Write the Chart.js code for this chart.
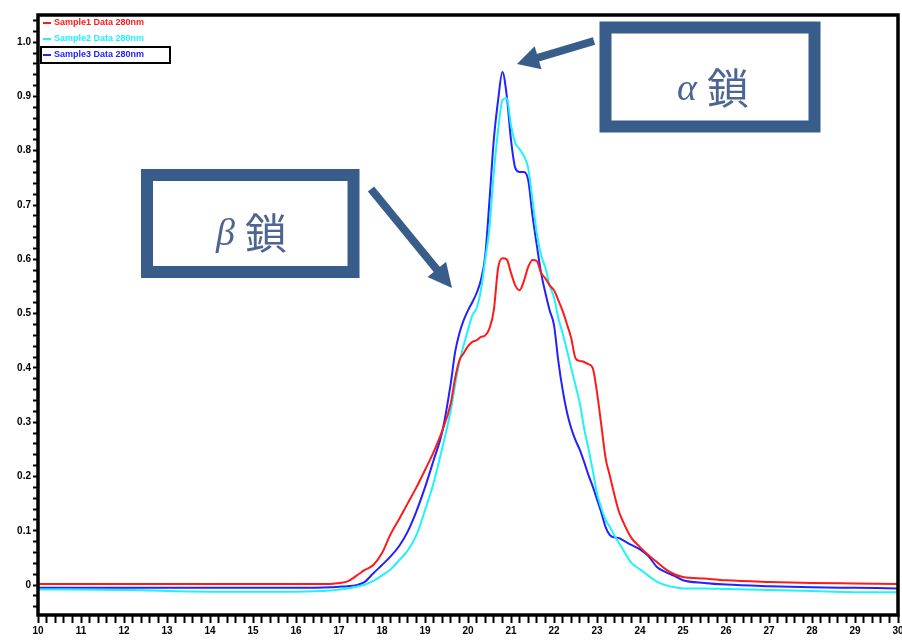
<!DOCTYPE html>
<html>
<head>
<meta charset="utf-8">
<title>Globin chain chromatogram</title>
<script src="https://cdn.jsdelivr.net/npm/chart.js@4.4.1/dist/chart.umd.min.js"></script>
<style>
  html, body { margin: 0; padding: 0; background: #fff; }
  #wrap { width: 902px; height: 641px; position: relative; }
  canvas { display: block; }
</style>
</head>
<body>
<div id="wrap"><canvas id="chart" width="902" height="641"></canvas></div>
<script>
// Retention time (min) shared by all three traces
const retentionTime = [
  10, 12, 14, 16, 16.8,
  17.0, 17.2, 17.4, 17.6, 17.8, 18.0, 18.2, 18.4, 18.6, 18.8, 19.0, 19.2, 19.4,
  19.6,
  19.7, 19.8, 19.9, 20.0, 20.1, 20.2, 20.3, 20.4, 20.5, 20.6,
  20.7, 20.8, 20.9, 21.0, 21.1, 21.2, 21.3, 21.4, 21.5, 21.6,
  21.7, 21.8, 21.9, 22.0, 22.1, 22.2, 22.3, 22.4, 22.5, 22.6,
  22.7, 22.8, 22.9, 23.0, 23.1, 23.2, 23.3, 23.4, 23.5, 23.6,
  23.8, 24.0, 24.2, 24.4, 24.6, 24.8, 25.0,
  25.5, 26, 27, 28, 29, 30
];

// Absorbance of each sample
const sample1 = [
  0.002, 0.002, 0.002, 0.002, 0.002,
  0.004, 0.007, 0.017, 0.028, 0.037, 0.059, 0.094, 0.122, 0.151, 0.180, 0.212, 0.245, 0.284,
  0.335,
  0.381, 0.414, 0.427, 0.440, 0.448, 0.451, 0.457, 0.460, 0.473, 0.506,
  0.584, 0.602, 0.600, 0.575, 0.552, 0.543, 0.560, 0.586, 0.599, 0.597,
  0.575, 0.565, 0.552, 0.543, 0.525, 0.505, 0.481, 0.455, 0.418, 0.413,
  0.411, 0.407, 0.400, 0.355, 0.295, 0.234, 0.201, 0.168, 0.138, 0.118,
  0.087, 0.070, 0.055, 0.042, 0.029, 0.020, 0.015,
  0.012, 0.009, 0.006, 0.004, 0.003, 0.002
];
const sample2 = [
  -0.008, -0.009, -0.012, -0.012, -0.010,
  -0.008, -0.006, -0.003, 0.001, 0.008, 0.018, 0.029, 0.046, 0.064, 0.092, 0.138, 0.188, 0.252,
  0.322,
  0.368, 0.411, 0.442, 0.470, 0.497, 0.510, 0.543, 0.599, 0.659, 0.759,
  0.838, 0.893, 0.897, 0.847, 0.814, 0.803, 0.790, 0.768, 0.709, 0.648,
  0.608, 0.584, 0.552, 0.530, 0.492, 0.464, 0.433, 0.400, 0.368, 0.335,
  0.289, 0.252, 0.212, 0.169, 0.142, 0.120, 0.107, 0.092, 0.079, 0.066,
  0.041, 0.029, 0.017, 0.006, 0.000, -0.004, -0.006,
  -0.006, -0.007, -0.009, -0.011, -0.013, -0.013
];
const sample3 = [
  -0.005, -0.005, -0.005, -0.005, -0.004,
  -0.003, -0.002, 0.000, 0.006, 0.022, 0.037, 0.053, 0.072, 0.099, 0.136, 0.180, 0.230, 0.282,
  0.372,
  0.429, 0.464, 0.488, 0.506, 0.521, 0.538, 0.562, 0.606, 0.709, 0.820,
  0.893, 0.945, 0.902, 0.820, 0.768, 0.761, 0.761, 0.746, 0.681, 0.626,
  0.575, 0.538, 0.506, 0.479, 0.413, 0.360, 0.319, 0.289, 0.267, 0.249,
  0.227, 0.203, 0.182, 0.158, 0.134, 0.107, 0.092, 0.088, 0.087, 0.083,
  0.074, 0.066, 0.053, 0.033, 0.024, 0.017, 0.009,
  0.004, 0.001, -0.002, -0.004, -0.005, -0.006
];

const seriesNames = ['Sample1 Data 280nm', 'Sample2 Data 280nm', 'Sample3 Data 280nm'];

// Labelled axis ticks
const xTickValues = [10, 11, 12, 13, 14, 15, 16, 17, 18, 19, 20, 21, 22, 23, 24, 25, 26, 27, 28, 29, 30];
const xTickLabels = ['10', '11', '12', '13', '14', '15', '16', '17', '18', '19', '20', '21', '22', '23', '24', '25', '26', '27', '28', '29', '30'];
const yTickValues = [0, 0.1, 0.2, 0.3, 0.4, 0.5, 0.6, 0.7, 0.8, 0.9, 1.0];
const yTickLabels = ['0', '0.1', '0.2', '0.3', '0.4', '0.5', '0.6', '0.7', '0.8', '0.9', '1.0'];

// Chain annotations
const chainLabels = [
  { greek: 'α', kanji: '鎖' },
  { greek: 'β', kanji: '鎖' }
];

const ANNOT = '#385d8a';
const ANNOT_TEXT = '#4d6592';

function toPoints(ys) {
  return retentionTime.map((t, i) => ({ x: t, y: ys[i] }));
}

function labelFor(values, labels, v) {
  for (let i = 0; i < values.length; i++) {
    if (Math.abs(values[i] - v) < 1e-6) return labels[i];
  }
  return '';
}

// minor ticks: five per labelled interval
function minorTicks(from, to, step) {
  const out = [];
  const n = Math.round((to - from) / step);
  for (let i = 0; i <= n; i++) out.push({ value: +(from + i * step).toFixed(4) });
  return out;
}

function arrow(ctx, x1, y1, x2, y2, w, headLen, headW) {
  const dx = x2 - x1, dy = y2 - y1;
  const len = Math.hypot(dx, dy);
  const ux = dx / len, uy = dy / len;
  const bx = x2 - ux * headLen, by = y2 - uy * headLen;
  ctx.save();
  ctx.strokeStyle = ANNOT;
  ctx.fillStyle = ANNOT;
  ctx.lineWidth = w;
  ctx.lineCap = 'butt';
  ctx.beginPath();
  ctx.moveTo(x1, y1);
  ctx.lineTo(bx + ux * 2, by + uy * 2);
  ctx.stroke();
  ctx.beginPath();
  ctx.moveTo(x2, y2);
  ctx.lineTo(bx - uy * headW / 2, by + ux * headW / 2);
  ctx.lineTo(bx + uy * headW / 2, by - ux * headW / 2);
  ctx.closePath();
  ctx.fill();
  ctx.restore();
}

function framedLabel(ctx, box, label, textX, textY) {
  ctx.save();
  ctx.strokeStyle = ANNOT;
  ctx.lineWidth = 12;
  ctx.strokeRect(box.x, box.y, box.w, box.h);
  ctx.fillStyle = ANNOT_TEXT;
  ctx.textBaseline = 'middle';
  ctx.textAlign = 'left';
  ctx.font = 'italic 38px "Liberation Serif", "DejaVu Serif", serif';
  ctx.fillText(label.greek, textX, textY + 2);
  const gw = ctx.measureText(label.greek).width;
  ctx.font = '42px "Noto Sans CJK JP", "Noto Sans CJK SC", sans-serif';
  ctx.fillText(label.kanji, textX + gw + 10, textY);
  ctx.restore();
}

const annotations = {
  id: 'chainAnnotations',
  afterDatasetsDraw(chart) {
    const ctx = chart.ctx;
    framedLabel(ctx, { x: 605.5, y: 27.5, w: 209, h: 99 }, chainLabels[0], 677, 88);
    framedLabel(ctx, { x: 147, y: 175, w: 206.5, h: 97 }, chainLabels[1], 216, 233);
    arrow(ctx, 594, 41, 517, 64, 8, 22, 24);
    arrow(ctx, 371, 189, 452, 288, 8, 24, 24);
  }
};

const insetLegend = {
  id: 'insetLegend',
  afterDraw(chart) {
    const ctx = chart.ctx;
    ctx.save();
    chart.data.datasets.forEach((ds, i) => {
      const y = 23 + i * 16;
      ctx.strokeStyle = ds.borderColor;
      ctx.lineWidth = 2;
      ctx.beginPath();
      ctx.moveTo(43, y);
      ctx.lineTo(51, y);
      ctx.stroke();
      ctx.fillStyle = ds.borderColor;
      ctx.font = 'bold 9px "Liberation Sans", Arial, sans-serif';
      ctx.textBaseline = 'middle';
      ctx.fillText(ds.label, 54, y);
    });
    // selected trace
    ctx.strokeStyle = '#000';
    ctx.lineWidth = 2;
    ctx.strokeRect(41, 47, 129, 16);
    ctx.restore();
  }
};

const plotFrame = {
  id: 'plotFrame',
  afterDraw(chart) {
    const a = chart.chartArea;
    const ctx = chart.ctx;
    ctx.save();
    ctx.strokeStyle = '#000';
    ctx.lineWidth = 3.5;
    ctx.strokeRect(a.left, a.top, a.right - a.left, a.bottom - a.top);
    ctx.restore();
  }
};

const colors = ['#ff1a1a', '#1ff2ff', '#2222ff'];

new Chart(document.getElementById('chart'), {
  type: 'line',
  data: {
    datasets: [sample1, sample2, sample3].map((ys, i) => ({
      label: seriesNames[i],
      data: toPoints(ys),
      borderColor: colors[i],
      backgroundColor: colors[i],
      borderWidth: 2,
      pointRadius: 0,
      fill: false,
      cubicInterpolationMode: 'monotone'
    }))
  },
  options: {
    responsive: false,
    animation: false,
    devicePixelRatio: 1,
    layout: { padding: { top: 15, right: 4, bottom: 0, left: 0 } },
    plugins: {
      legend: { display: false },
      tooltip: { enabled: false }
    },
    scales: {
      x: {
        type: 'linear',
        min: 10,
        max: 30,
        afterBuildTicks(scale) { scale.ticks = minorTicks(10, 30, 0.2); },
        afterFit(scale) { scale.height = 26; scale.paddingLeft = 0; scale.paddingRight = 0; },
        border: { display: false },
        grid: {
          display: true,
          drawOnChartArea: false,
          drawTicks: true,
          tickLength: 8,
          tickWidth: 2,
          tickColor: '#000'
        },
        ticks: {
          autoSkip: false,
          maxRotation: 0,
          padding: 2,
          color: '#000',
          font: { family: '"Liberation Sans", Arial, sans-serif', size: 10, weight: 'bold' },
          callback: (v) => labelFor(xTickValues, xTickLabels, v)
        }
      },
      y: {
        type: 'linear',
        min: -0.055,
        max: 1.05,
        afterBuildTicks(scale) { scale.ticks = minorTicks(-0.04, 1.04, 0.02); },
        afterFit(scale) { scale.width = 38; scale.paddingTop = 0; scale.paddingBottom = 0; },
        border: { display: false },
        grid: {
          display: true,
          drawOnChartArea: false,
          drawTicks: true,
          tickLength: 5,
          tickWidth: 2,
          tickColor: '#000'
        },
        ticks: {
          autoSkip: false,
          padding: 2,
          color: '#000',
          font: { family: '"Liberation Sans", Arial, sans-serif', size: 10, weight: 'bold' },
          callback: (v) => labelFor(yTickValues, yTickLabels, v)
        }
      }
    }
  },
  plugins: [annotations, insetLegend, plotFrame]
});
</script>
</body>
</html>
